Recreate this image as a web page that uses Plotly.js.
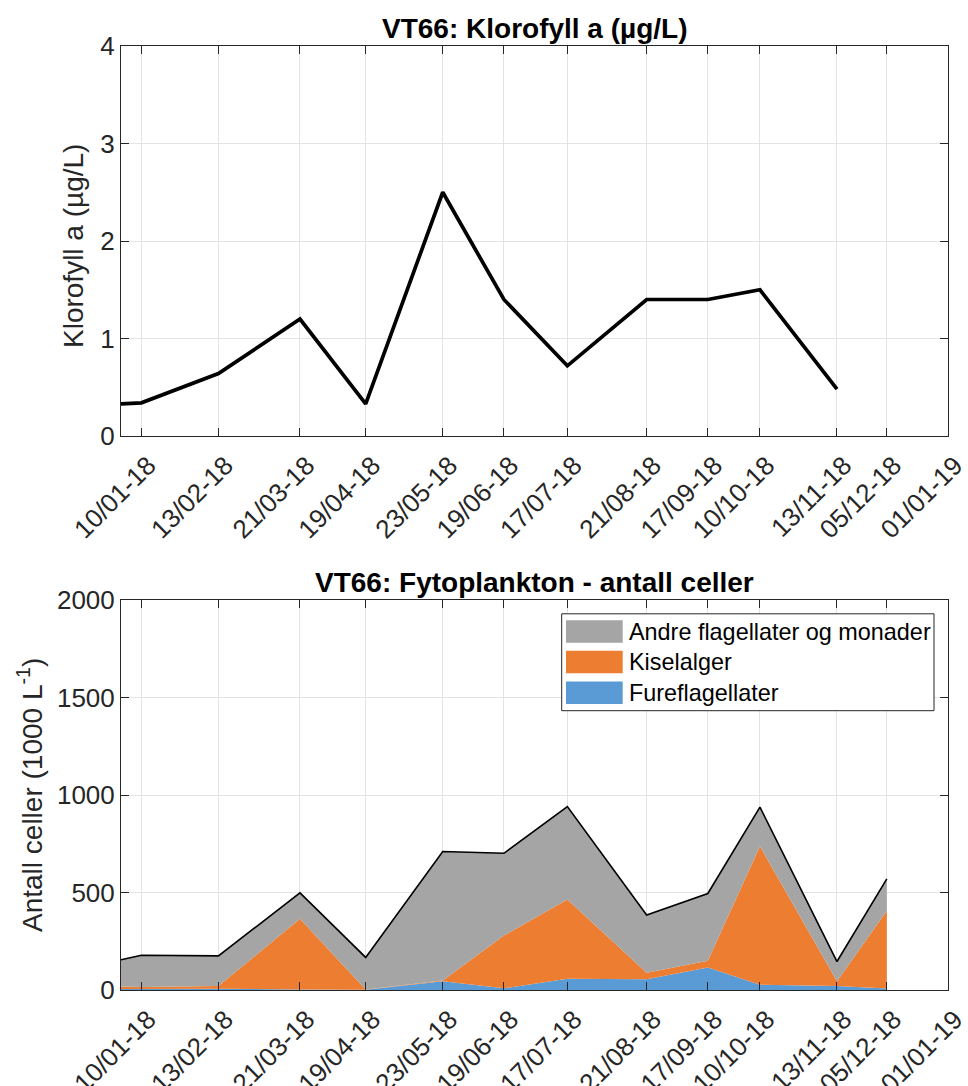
<!DOCTYPE html>
<html>
<head>
<meta charset="utf-8">
<script src="https://cdn.plot.ly/plotly-3.0.1.min.js"></script>
<style>html,body{margin:0;padding:0;background:#fff;}#chart{width:968px;height:1086px;}</style>
</head>
<body>
<div id="chart"></div>
<script>
// ---- data ----
const chlDates = ['2018-01-01','2018-01-10','2018-02-13','2018-03-21','2018-04-19','2018-05-23','2018-06-19','2018-07-17','2018-08-21','2018-09-17','2018-10-10','2018-11-13'];
const chlValues = [0.33, 0.34, 0.64, 1.20, 0.33, 2.50, 1.40, 0.72, 1.40, 1.40, 1.50, 0.48];

const phytoDates = ['2018-01-01','2018-01-10','2018-02-13','2018-03-21','2018-04-19','2018-05-23','2018-06-19','2018-07-17','2018-08-21','2018-09-17','2018-10-10','2018-11-13','2018-12-05'];
const fureflagellater = [5, 5, 7, 2, 1, 45, 9, 58, 55, 116, 27, 21, 8];
const kiselalger = [13, 10, 13, 363, 1, 4, 270, 406, 33, 34, 710, 24, 399];
const andreFlagellater = [137, 163, 155, 133, 165, 661, 422, 477, 297, 345, 201, 101, 163];

const seriesNames = ['Andre flagellater og monader', 'Kiselalger', 'Fureflagellater'];

const tickDates = ['2018-01-10','2018-02-13','2018-03-21','2018-04-19','2018-05-23','2018-06-19','2018-07-17','2018-08-21','2018-09-17','2018-10-10','2018-11-13','2018-12-05','2019-01-01'];
const tickLabels = ['10/01-18','13/02-18','21/03-18','19/04-18','23/05-18','19/06-18','17/07-18','21/08-18','17/09-18','10/10-18','13/11-18','05/12-18','01/01-19'];

const title1 = 'VT66: Klorofyll a (µg/L)';
const title2 = 'VT66: Fytoplankton - antall celler';
const ytitle1 = 'Klorofyll a (µg/L)';
const ytitle2 = 'Antall celler (1000 L<sup>-1</sup>)';

// ---- styling ----
const FONT = '"Liberation Sans", Arial, Helvetica, sans-serif';
const AX = '#262626';
const GRID = '#e3e3e3';
const colors = {andre: '#a5a5a5', kisel: '#ed7d31', fure: '#5b9bd5'};

const W = 968, H = 1086;
const L = 121, R = 948, T = 46, B = 990;
const plotH = 390;
const px = p => (p - L) / (R - L);
const py = p => (B - p) / (B - T);

const xCommon = {
  type: 'date',
  range: ['2018-01-01', '2019-01-01'],
  tickmode: 'array',
  tickvals: tickDates,
  ticktext: tickLabels,
  tickangle: -45,
  ticklabelshift: 7,
  ticklabelstandoff: 3,
  ticklabeloverflow: 'allow',
  ticks: 'inside',
  ticklen: 8,
  tickcolor: AX,
  showline: true,
  linecolor: AX,
  linewidth: 1,
  mirror: 'allticks',
  showgrid: true,
  gridcolor: GRID,
  zeroline: false,
  tickfont: {family: FONT, size: 26, color: AX},
  fixedrange: true
};

const traces = [
  {
    x: chlDates, y: chlValues, type: 'scatter', mode: 'lines',
    line: {color: '#000000', width: 3.7},
    xaxis: 'x', yaxis: 'y', showlegend: false, hoverinfo: 'skip'
  },
  {
    x: phytoDates, y: fureflagellater, type: 'scatter', mode: 'lines',
    stackgroup: 'phyto', fillcolor: colors.fure,
    line: {width: 0, color: colors.fure},
    name: seriesNames[2], xaxis: 'x2', yaxis: 'y2', showlegend: false, hoverinfo: 'skip'
  },
  {
    x: phytoDates, y: kiselalger, type: 'scatter', mode: 'lines',
    stackgroup: 'phyto', fillcolor: colors.kisel,
    line: {width: 0, color: colors.kisel},
    name: seriesNames[1], xaxis: 'x2', yaxis: 'y2', showlegend: false, hoverinfo: 'skip'
  },
  {
    x: phytoDates, y: andreFlagellater, type: 'scatter', mode: 'lines',
    stackgroup: 'phyto', fillcolor: colors.andre,
    line: {width: 1.6, color: '#000000'},
    name: seriesNames[0], xaxis: 'x2', yaxis: 'y2', showlegend: false, hoverinfo: 'skip'
  }
];

const yCommon = {
  ticks: 'inside', ticklen: 8, tickcolor: AX,
  showline: true, linecolor: AX, linewidth: 1, mirror: 'allticks',
  showgrid: true, gridcolor: GRID, zeroline: false,
  tickfont: {family: FONT, size: 26, color: AX},
  fixedrange: true
};

// legend built from series names
const legendColors = [colors.andre, colors.kisel, colors.fure];
const legRowsPix = [631.5, 662, 692.7];
const shapes = [
  {type: 'rect', xref: 'paper', yref: 'paper', x0: px(561.7), x1: px(934), y0: py(710.7), y1: py(613.8),
   line: {color: AX, width: 1}, fillcolor: '#ffffff', layer: 'above'}
];
const annotations = [
  {text: '<b>' + title1 + '</b>', xref: 'paper', yref: 'paper', x: 0.5, y: py(29), xanchor: 'center', yanchor: 'middle',
   showarrow: false, font: {family: FONT, size: 28, color: '#000'}},
  {text: '<b>' + title2 + '</b>', xref: 'paper', yref: 'paper', x: 0.5, y: py(582), xanchor: 'center', yanchor: 'middle',
   showarrow: false, font: {family: FONT, size: 28, color: '#000'}},
  {text: ytitle1, xref: 'paper', yref: 'paper', x: px(73), y: py(246), xanchor: 'center', yanchor: 'middle',
   textangle: -90, showarrow: false, font: {family: FONT, size: 28, color: AX}},
  {text: ytitle2, xref: 'paper', yref: 'paper', x: px(30), y: py(795), xanchor: 'center', yanchor: 'middle',
   textangle: -90, showarrow: false, font: {family: FONT, size: 28, color: AX}}
];
seriesNames.forEach((nm, i) => {
  const cy = legRowsPix[i];
  shapes.push({type: 'rect', xref: 'paper', yref: 'paper', x0: px(566), x1: px(622.7), y0: py(cy + 11.3), y1: py(cy - 11.3),
    line: {width: 0}, fillcolor: legendColors[i], layer: 'above'});
  annotations.push({text: nm, xref: 'paper', yref: 'paper', x: px(627), y: py(cy), xanchor: 'left', yanchor: 'middle',
    showarrow: false, font: {family: FONT, size: 23.4, color: '#000'}});
});

const layout = {
  width: W, height: H,
  margin: {l: L, r: W - R, t: T, b: H - B, pad: 0},
  paper_bgcolor: '#ffffff', plot_bgcolor: '#ffffff',
  showlegend: false,
  xaxis: Object.assign({}, xCommon, {anchor: 'y'}),
  yaxis: Object.assign({}, yCommon, {range: [0, 4], tickvals: [0,1,2,3,4], domain: [1 - plotH / (B - T), 1], anchor: 'x'}),
  xaxis2: Object.assign({}, xCommon, {anchor: 'y2'}),
  yaxis2: Object.assign({}, yCommon, {range: [0, 2000], tickvals: [0,500,1000,1500,2000], domain: [0, plotH / (B - T)], anchor: 'x2'}),
  shapes: shapes,
  annotations: annotations
};

Plotly.newPlot('chart', traces, layout, {staticPlot: true, displayModeBar: false});
</script>
</body>
</html>
